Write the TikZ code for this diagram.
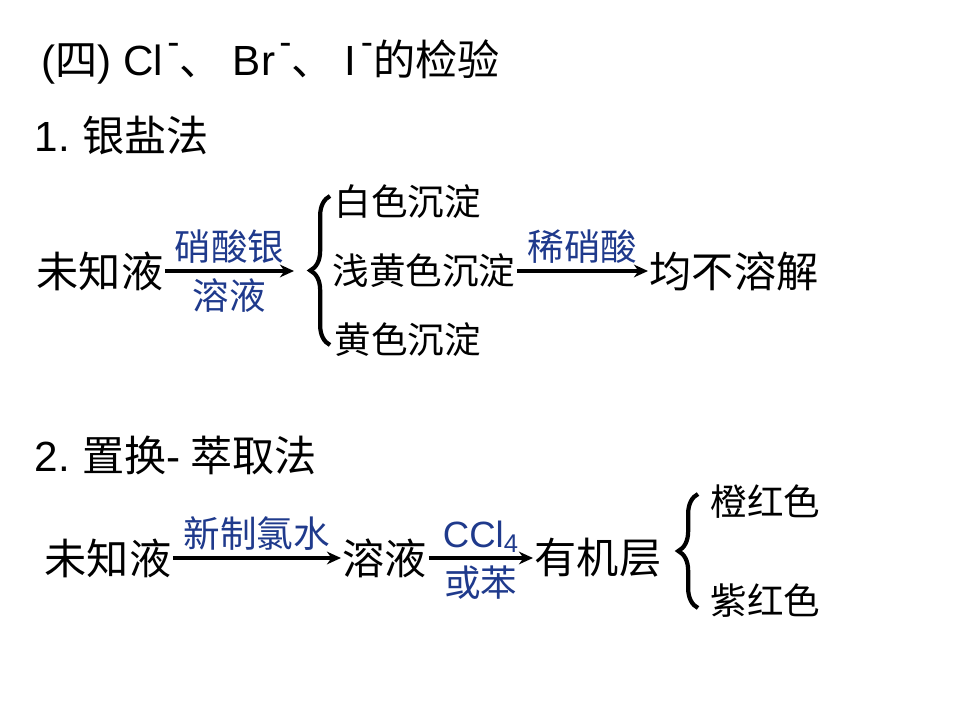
\documentclass[tikz,border=0pt]{standalone}
\usepackage{fontspec}
\setmainfont{Noto Sans CJK SC}
\newfontfamily\latin{Liberation Sans}
\usetikzlibrary{arrows.meta,decorations.pathreplacing}
\definecolor{labelblue}{RGB}{31,58,140}
\newcommand{\ionminus}{\hspace{3pt}\raisebox{0.9ex}{\fontsize{26}{26}\selectfont\latin -}}
\tikzset{
  big/.style={font=\fontsize{30}{36}\selectfont, inner sep=1pt, anchor=west},
  med/.style={font=\fontsize{26}{31}\selectfont, inner sep=1pt, anchor=west},
  lbl/.style={font=\fontsize{26}{31}\selectfont, text=labelblue, inner sep=4pt},
  flow/.style={->, line width=3.2pt},
  bracebar/.style={decorate, decoration={brace, amplitude=14}, line width=3pt}
}

\begin{document}
\begin{tikzpicture}[x=0.025cm, y=-0.025cm, >={Stealth[length=10pt,width=9pt]}]
  \useasboundingbox (0,0) rectangle (960,720); % page frame
  % headings
  \node[big] (title) at (40,62) {{\latin (}四{\latin )\hspace{8pt}Cl}\ionminus 、\hspace{8pt}{\latin Br}\ionminus 、\hspace{8pt}{\latin I}\ionminus 的检验}; % section title
  \node[big] (head1) at (33,135) {{\latin 1.} 银盐法}; % first method
  \node[big] (head2) at (33,455) {{\latin 2.} 置换{\latin -} 萃取法}; % second method
  % 1. silver salt method
  \node[big] (unknown1) at (35,271) {未知液}; % sample
  \coordinate (arr1end) at (294,271); % end of first arrow
  \draw[flow] (unknown1.east) -- (arr1end)
    node[midway, above, lbl] (agno3) {硝酸银}
    node[midway, below, lbl] (soln1) {溶液}; % add reagent
  \draw[bracebar] (330,345) -- (330,196); % brace for precipitates
  \node[med] (white) at (333,202) {白色沉淀}; % AgCl
  \node[med] (pale) at (331,271) {浅黄色沉淀}; % AgBr
  \node[med] (yellow) at (333,340) {黄色沉淀}; % AgI
  \node[big] (insol) at (648,271) {均不溶解}; % result
  \draw[flow] (pale.east) -- (insol.west)
    node[midway, above, lbl] (hno3) {稀硝酸}; % add acid
  % 2. displacement-extraction method
  \node[big] (unknown2) at (43,558) {未知液}; % sample
  \node[big] (soln2) at (341,558) {溶液}; % after chlorine water
  \node[big] (organic) at (533,558) {有机层}; % extracted layer
  \draw[flow] (unknown2.east) -- (soln2.west)
    node[midway, above, lbl] (clwater) {新制氯水}; % add chlorine water
  \draw[flow] (soln2.east) -- (organic.west)
    node[midway, above, lbl, inner sep=2pt] (ccl4) {\latin CCl\textsubscript{4}}
    node[midway, below, lbl] (benzene) {或苯}; % extract
  \draw[bracebar] (698,608) -- (698,494); % brace for colours
  \node[med] (orange) at (709,502) {橙红色}; % bromine
  \node[med] (purple) at (709,601) {紫红色}; % iodine
\end{tikzpicture}
\end{document}
